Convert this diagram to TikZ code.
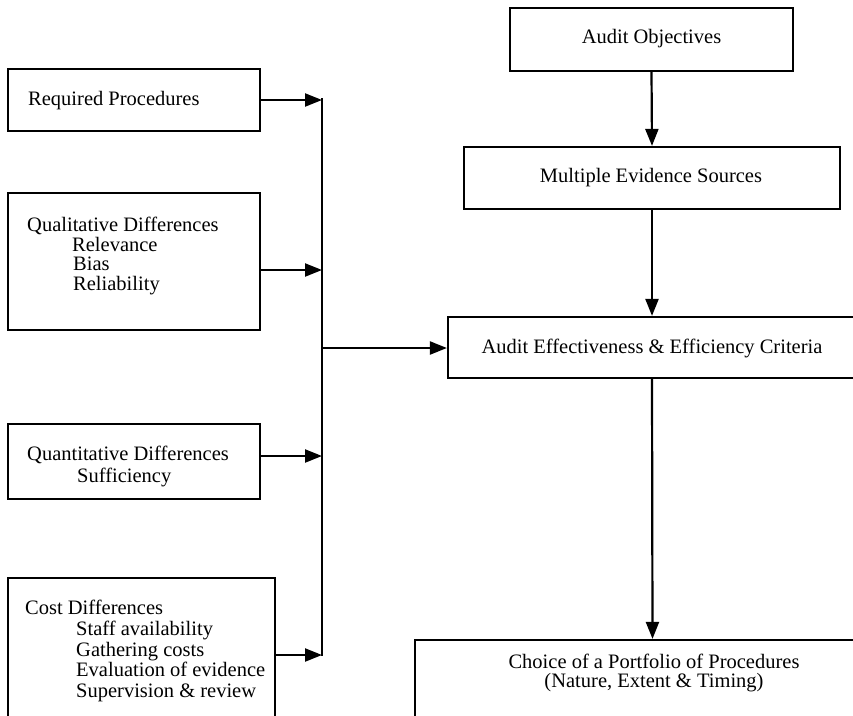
\documentclass[tikz,border=0pt]{standalone}
\usepackage{fontspec}
\setmainfont{Liberation Serif}
\usetikzlibrary{arrows.meta}
\begin{document}
\begin{tikzpicture}[x=1pt,y=-1pt,
  box/.style={draw, line width=2.2pt, inner sep=0pt},
  txt/.style={inner sep=0pt, font=\fontsize{20.5}{20}\selectfont},
  flow/.style={line width=2.2pt, -{Triangle[length=17pt,width=13pt]}},
  bus/.style={line width=2.2pt}]
\useasboundingbox (0,0) rectangle (853,715);
\clip (0,0) rectangle (853,715);

% factor boxes on the left
\node[box, minimum width=252, minimum height=62] (req) at (134,100) {};
\node[txt, anchor=west] (reqt) at (28,101) {Required Procedures};

\node[box, minimum width=252, minimum height=137] (qual) at (134,261.5) {};
\node[txt, anchor=west, align=left, font=\fontsize{20.5}{19.5}\selectfont] (qualt) at (27,256)
  {Qualitative Differences\\\hspace*{45pt}Relevance\\\hspace*{46pt}Bias\\\hspace*{46pt}Reliability};

\node[box, minimum width=252, minimum height=75] (quant) at (134,461.5) {};
\node[txt, anchor=west, align=left, font=\fontsize{20.5}{22}\selectfont] (quantt) at (27,466)
  {Quantitative Differences\\\hspace*{50pt}Sufficiency};

\node[box, minimum width=267, minimum height=162] (cost) at (141.5,659) {};
\node[txt, anchor=west, align=left, font=\fontsize{20.5}{20.8}\selectfont] (costt) at (25,651)
  {Cost Differences\\\hspace*{51pt}Staff availability\\\hspace*{51pt}Gathering costs\\\hspace*{51pt}Evaluation of evidence\\\hspace*{51pt}Supervision \& review};

% main chain on the right
\node[box, minimum width=283, minimum height=63] (obj) at (651.5,39.5) {};
\node[txt] (objt) at (651.5,39) {Audit Objectives};

\node[box, minimum width=376, minimum height=62] (mult) at (652,178) {};
\node[txt] (multt) at (651,178) {Multiple Evidence Sources};

\node[box, minimum width=408, minimum height=61] (eff) at (652,347.5) {};
\node[txt] (efft) at (652,348) {Audit Effectiveness \& Efficiency Criteria};

\node[box, minimum width=475, minimum height=140] (choice) at (652.5,710) {};
\node[txt, align=center, font=\fontsize{20.5}{19}\selectfont] (choicet) at (654,673)
  {Choice of a Portfolio of Procedures\\(Nature, Extent \& Timing)};

% collecting line
\coordinate (bustop) at (322,98);
\coordinate (busbot) at (322,656);
\draw[bus] (bustop) -- (busbot);

\draw[flow] (req.east) -- (req.east -| bustop);
\draw[flow] (qual.east |- 0,270) -- (322,270);
\draw[flow] (quant.east |- 0,456) -- (322,456);
\draw[flow] (cost.east |- 0,655) -- (322,655);
\draw[flow] (322,348) -- (eff.west |- 0,348);

\draw[flow] (obj.south) -- (mult.north);
\draw[flow] (mult.south) -- (eff.north);
\draw[flow] (eff.south) -- (choice.north);
\end{tikzpicture}
\end{document}
